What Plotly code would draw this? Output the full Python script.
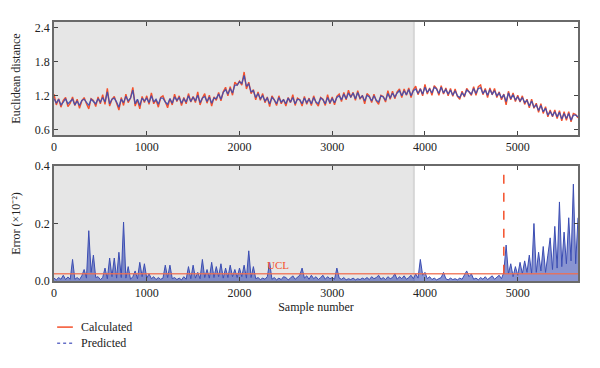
import plotly.graph_objects as go
from plotly.subplots import make_subplots

STEP = 25  # samples between stored points

calculated = [
    1.23, 1.04, 1.15, 1.00, 1.12, 1.17, 1.01, 1.07, 1.18, 1.03,
    1.14, 0.98, 1.11, 1.17, 1.06, 0.97, 1.15, 1.12, 1.01, 1.18,
    1.06, 1.22, 1.05, 1.33, 1.02, 1.14, 1.19, 1.06, 0.95, 1.17,
    1.03, 1.23, 1.08, 1.16, 1.35, 1.02, 1.13, 0.97, 1.19, 1.08,
    1.20, 1.05, 1.25, 1.06, 1.13, 1.00, 1.17, 1.20, 1.08, 0.99,
    1.15, 1.04, 1.23, 1.10, 1.20, 1.03, 1.17, 1.06, 1.24, 1.09,
    1.19, 1.08, 1.27, 1.04, 1.16, 1.24, 1.07, 1.21, 1.02, 1.18,
    1.12, 1.26, 1.11, 1.27, 1.35, 1.20, 1.36, 1.21, 1.44, 1.39,
    1.46, 1.39, 1.62, 1.32, 1.44, 1.24, 1.31, 1.13, 1.27, 1.12,
    1.24, 1.08, 1.18, 1.01, 1.20, 1.13, 1.03, 1.20, 1.06, 1.14,
    1.02, 1.17, 1.08, 1.22, 1.03, 1.16, 1.13, 1.02, 1.19, 1.05,
    1.16, 1.03, 1.20, 1.08, 1.02, 1.17, 1.14, 1.03, 1.22, 1.06,
    1.18, 1.04, 1.19, 1.23, 1.10, 1.26, 1.13, 1.30, 1.17, 1.26,
    1.12, 1.29, 1.14, 1.21, 1.06, 1.24, 1.20, 1.08, 1.23, 1.11,
    1.05, 1.21, 1.19, 1.09, 1.29, 1.14, 1.28, 1.15, 1.27, 1.32,
    1.17, 1.32, 1.21, 1.34, 1.17, 1.31, 1.37, 1.22, 1.33, 1.20,
    1.40, 1.23, 1.34, 1.21, 1.38, 1.33, 1.21, 1.38, 1.23, 1.34,
    1.20, 1.33, 1.19, 1.32, 1.19, 1.14, 1.28, 1.18, 1.33, 1.28,
    1.21, 1.36, 1.21, 1.36, 1.39, 1.22, 1.33, 1.17, 1.34, 1.22,
    1.33, 1.17, 1.27, 1.13, 1.23, 1.04, 1.28, 1.13, 1.25, 1.10,
    1.21, 1.09, 1.20, 1.05, 1.14, 0.99, 1.14, 0.98, 1.07, 0.91,
    1.06, 0.89, 1.01, 0.83, 0.95, 0.83, 0.95, 0.80, 0.94, 0.76,
    0.92, 0.77, 0.92, 0.74, 0.89, 0.87, 0.81,
]

predicted = [
    1.15, 1.07, 1.14, 1.04, 1.09, 1.15, 1.06, 1.11, 1.14, 1.04,
    1.11, 1.03, 1.12, 1.14, 1.09, 1.03, 1.14, 1.09, 1.06, 1.15,
    1.09, 1.17, 1.09, 1.27, 1.06, 1.14, 1.16, 1.09, 1.00, 1.14,
    1.08, 1.19, 1.11, 1.16, 1.30, 1.06, 1.14, 1.03, 1.16, 1.11,
    1.16, 1.08, 1.20, 1.09, 1.14, 1.05, 1.16, 1.16, 1.09, 1.05,
    1.15, 1.07, 1.18, 1.12, 1.17, 1.07, 1.15, 1.09, 1.20, 1.10,
    1.18, 1.11, 1.21, 1.08, 1.16, 1.19, 1.10, 1.18, 1.07, 1.16,
    1.15, 1.23, 1.14, 1.26, 1.31, 1.23, 1.33, 1.25, 1.39, 1.39,
    1.45, 1.42, 1.56, 1.37, 1.41, 1.27, 1.29, 1.17, 1.24, 1.15,
    1.20, 1.11, 1.16, 1.06, 1.17, 1.13, 1.06, 1.17, 1.09, 1.13,
    1.06, 1.16, 1.09, 1.17, 1.06, 1.14, 1.13, 1.06, 1.16, 1.08,
    1.14, 1.06, 1.17, 1.09, 1.06, 1.16, 1.13, 1.06, 1.17, 1.08,
    1.15, 1.08, 1.17, 1.20, 1.13, 1.23, 1.15, 1.25, 1.18, 1.25,
    1.15, 1.26, 1.16, 1.20, 1.11, 1.21, 1.18, 1.11, 1.20, 1.12,
    1.09, 1.20, 1.18, 1.12, 1.24, 1.16, 1.25, 1.18, 1.25, 1.29,
    1.20, 1.29, 1.22, 1.31, 1.20, 1.29, 1.32, 1.24, 1.32, 1.23,
    1.35, 1.26, 1.32, 1.25, 1.35, 1.32, 1.24, 1.35, 1.25, 1.31,
    1.23, 1.30, 1.21, 1.29, 1.20, 1.17, 1.25, 1.20, 1.30, 1.27,
    1.23, 1.33, 1.24, 1.33, 1.34, 1.24, 1.30, 1.21, 1.31, 1.23,
    1.29, 1.20, 1.25, 1.16, 1.22, 1.10, 1.25, 1.15, 1.22, 1.13,
    1.18, 1.11, 1.17, 1.08, 1.12, 1.02, 1.11, 1.00, 1.04, 0.94,
    1.03, 0.92, 0.98, 0.86, 0.92, 0.85, 0.92, 0.83, 0.91, 0.79,
    0.89, 0.80, 0.89, 0.77, 0.86, 0.86, 0.83,
]

error = [
    0.010, 0.004, 0.012, 0.006, 0.020, 0.005, 0.014, 0.006, 0.075, 0.006,
    0.012, 0.005, 0.018, 0.040, 0.010, 0.175, 0.030, 0.090, 0.012, 0.015,
    0.005, 0.012, 0.045, 0.008, 0.080, 0.015, 0.080, 0.010, 0.100, 0.012,
    0.205, 0.010, 0.050, 0.006, 0.015, 0.035, 0.008, 0.065, 0.015, 0.060,
    0.010, 0.025, 0.008, 0.015, 0.005, 0.012, 0.006, 0.010, 0.055, 0.012,
    0.055, 0.008, 0.012, 0.005, 0.010, 0.004, 0.015, 0.006, 0.050, 0.008,
    0.055, 0.010, 0.030, 0.008, 0.075, 0.012, 0.040, 0.010, 0.065, 0.012,
    0.050, 0.015, 0.060, 0.010, 0.045, 0.012, 0.055, 0.015, 0.040, 0.012,
    0.045, 0.015, 0.055, 0.010, 0.105, 0.012, 0.050, 0.008, 0.012, 0.005,
    0.010, 0.006, 0.015, 0.065, 0.006, 0.012, 0.004, 0.010, 0.005, 0.015,
    0.012, 0.004, 0.010, 0.018, 0.006, 0.012, 0.020, 0.045, 0.010, 0.018,
    0.006, 0.020, 0.008, 0.015, 0.005, 0.012, 0.020, 0.006, 0.015, 0.008,
    0.012, 0.006, 0.045, 0.010, 0.006, 0.012, 0.004, 0.008, 0.005, 0.010,
    0.004, 0.008, 0.005, 0.010, 0.006, 0.012, 0.005, 0.015, 0.008, 0.012,
    0.020, 0.006, 0.012, 0.005, 0.015, 0.008, 0.012, 0.025, 0.006, 0.015,
    0.008, 0.018, 0.006, 0.012, 0.020, 0.008, 0.025, 0.010, 0.075, 0.020,
    0.030, 0.008, 0.015, 0.005, 0.010, 0.004, 0.008, 0.012, 0.030, 0.008,
    0.004, 0.010, 0.005, 0.008, 0.004, 0.010, 0.006, 0.020, 0.035, 0.015,
    0.025, 0.006, 0.010, 0.004, 0.012, 0.006, 0.015, 0.005, 0.010, 0.018,
    0.006, 0.012, 0.020, 0.008, 0.030, 0.125, 0.025, 0.060, 0.015, 0.050,
    0.020, 0.065, 0.025, 0.070, 0.030, 0.090, 0.025, 0.200, 0.030, 0.100,
    0.035, 0.120, 0.030, 0.090, 0.150, 0.040, 0.190, 0.045, 0.275, 0.050,
    0.170, 0.060, 0.220, 0.070, 0.337, 0.060, 0.220,
]

ucl = 0.025
training_end = 3880
alarm_sample = 4850
x_ticks = [0, 1000, 2000, 3000, 4000, 5000]
legend_names = ["Calculated", "Predicted"]

samples_cp = [i * STEP for i in range(len(calculated))]
samples_pr = [i * STEP for i in range(len(predicted))]
samples_er = [i * STEP for i in range(len(error))]

RED = "#f4512c"
BLUE = "#3b4db3"
FONT = "Liberation Serif"
TXT = "#222"

fig = make_subplots(rows=2, cols=1, vertical_spacing=0.12)

fig.add_trace(go.Scatter(x=samples_cp, y=calculated, mode="lines", name=legend_names[0],
                         line=dict(color=RED, width=1.4), showlegend=False), row=1, col=1)
fig.add_trace(go.Scatter(x=samples_pr, y=predicted, mode="lines", name=legend_names[1],
                         line=dict(color=BLUE, width=1.3), opacity=0.9, showlegend=False),
              row=1, col=1)
fig.add_trace(go.Scatter(x=samples_er, y=error, mode="lines", fill="tozeroy",
                         fillcolor="rgba(59,77,179,0.6)",
                         line=dict(color=BLUE, width=1), showlegend=False), row=2, col=1)

# shaded training region
for xr, yr in (("x", "y"), ("x2", "y2")):
    fig.add_shape(type="rect", xref=xr, yref=yr + " domain", x0=0, x1=training_end,
                  y0=0, y1=1, fillcolor="#e6e6e6", line=dict(width=0), layer="below")
    fig.add_shape(type="line", xref=xr, yref=yr + " domain", x0=training_end, x1=training_end,
                  y0=0, y1=1, line=dict(color="#d6d6d6", width=2), layer="below")

# UCL line and label
fig.add_shape(type="line", xref="x2 domain", yref="y2", x0=0, x1=1, y0=ucl, y1=ucl,
              line=dict(color="rgba(240,110,80,0.85)", width=1.5))
fig.add_annotation(x=2270, y=ucl, xref="x2", yref="y2", text="UCL", showarrow=False,
                   xanchor="left", yanchor="bottom", yshift=1,
                   font=dict(color=RED, size=11, family=FONT))
# alarm line
fig.add_shape(type="line", xref="x2", yref="y2", x0=alarm_sample, x1=alarm_sample,
              y0=ucl, y1=0.375, line=dict(color=RED, width=1.5, dash="dash"))

# legend (drawn in paper coordinates below the lower panel)
leg_rows = [(-0.178, RED, "solid"), (-0.240, "#6670c8", "3px,3px")]
for (ly, col, dash), name in zip(leg_rows, legend_names):
    fig.add_shape(type="line", xref="paper", yref="paper", x0=0.006, x1=0.036, y0=ly, y1=ly,
                  line=dict(color=col, width=1.5, dash=dash))
    fig.add_annotation(x=0.047, y=ly, xref="paper", yref="paper", text=name, showarrow=False,
                       xanchor="left", yanchor="middle",
                       font=dict(family=FONT, size=12, color=TXT))

axis_style = dict(showline=True, linecolor="#6a6a6a", linewidth=1.5, mirror="ticks",
                  ticks="inside", ticklen=4, tickcolor="#444", tickwidth=1,
                  showgrid=False, zeroline=False, automargin=False,
                  tickfont=dict(family=FONT, size=12, color=TXT))

fig.update_xaxes(range=[0, 5650], tickvals=x_ticks, **axis_style)
fig.update_xaxes(title=dict(text="Sample number", standoff=2,
                            font=dict(family=FONT, size=12, color=TXT)), row=2, col=1)
fig.update_yaxes(**axis_style)
fig.update_yaxes(range=[0.51, 2.5], tickvals=[0.6, 1.2, 1.8, 2.4], tickformat=".1f",
                 title=dict(text="Euclidean distance", standoff=12,
                            font=dict(family=FONT, size=12, color=TXT)), row=1, col=1)
fig.update_yaxes(range=[0, 0.4], tickvals=[0.0, 0.2, 0.4], tickformat=".1f",
                 title=dict(text="Error (×10⁻²)", standoff=12,
                            font=dict(family=FONT, size=12, color=TXT)), row=2, col=1)

# the page body adds an 8 px margin, so the figure is 8 px smaller than the window
fig.update_layout(
    width=592, height=360,
    margin=dict(l=46, r=22, t=14, b=87),
    paper_bgcolor="white", plot_bgcolor="white",
    font=dict(family=FONT, size=12, color=TXT),
    showlegend=False,
)
fig.layout.yaxis.domain = [0.5637, 1.0]
fig.layout.yaxis2.domain = [0.0, 0.444]

fig.write_html("out.html")
